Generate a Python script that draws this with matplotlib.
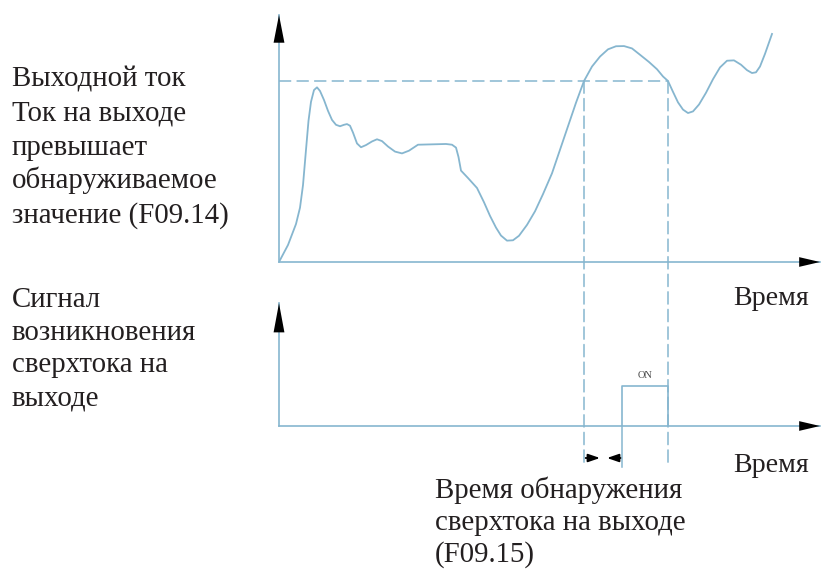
import matplotlib
matplotlib.use("Agg")
import matplotlib.pyplot as plt
from matplotlib.patches import ConnectionPatch

plt.rcParams["font.family"] = ["Liberation Serif", "DejaVu Serif"]

W, H = 821, 569
LINE = "#86b6cf"
INK = "#231f20"

# output current, threshold = 100 (F09.14); rows of ten to keep them aligned
time_pts = [0, 1.8, 3.4, 4.2, 4.8, 5.4, 5.9, 6.4, 7.0, 7.6,
            8.2, 9.0, 9.8, 10.6, 11.4, 12.2, 13.0, 13.6, 14.2, 14.8,
            15.6, 16.4, 17.4, 18.6, 19.6, 20.6, 21.8, 23.2, 24.6, 26.0,
            27.8, 33.4, 34.6, 35.4, 35.9, 36.4, 37.8, 39.6, 41.0, 42.2,
            43.4, 44.4, 45.6, 46.8, 48.0, 49.6, 51.2, 52.8, 54.6, 56.2,
            57.8, 59.4, 61.0, 62.6, 64.2, 65.8, 67.4, 69.0, 70.6, 72.2,
            74.0, 75.6, 76.8, 77.8, 78.8, 79.8, 80.8, 81.8, 82.8, 84.0,
            85.4, 86.8, 88.2, 89.6, 91.0, 92.4, 93.6, 94.6, 95.4, 96.2,
            97.2, 98.6]
current_pts = [0, 9.4, 21.0, 30.0, 42.5, 62.0, 78.0, 88.5, 95.0, 96.5,
               94.5, 89.5, 83.5, 78.5, 75.8, 75.0, 75.8, 76.2, 75.3, 71.5,
               65.5, 63.4, 64.6, 66.6, 67.8, 66.8, 63.8, 61.0, 60.0, 61.5,
               64.8, 65.2, 64.8, 63.2, 58.0, 50.5, 46.4, 40.9, 33.0, 25.5,
               19.0, 14.6, 11.8, 12.0, 14.5, 20.5, 28.0, 37.5, 49.0, 62.0,
               75.0, 88.0, 100, 108.0, 113.5, 117.5, 119.2, 119.3, 118.0, 114.5,
               110.5, 106.5, 102.5, 100, 94.0, 88.2, 84.2, 82.3, 83.2, 87.0,
               93.5, 101.0, 107.5, 111.2, 111.4, 109.0, 106.0, 104.4, 104.8, 108.0,
               115.0, 126.0]
threshold = 100
cross_times = [61.0, 77.8]
detect_delay = 7.6  # F09.15

# overcurrent signal
t_on = cross_times[0] + detect_delay
t_off = cross_times[1]
signal_t = [t_on, t_on, t_off, t_off]
signal_v = [0, 1, 1, 0]

fig = plt.figure(figsize=(W / 100, H / 100), dpi=100)


def box(left, top, right, bottom):
    return [left / W, 1 - bottom / H, (right - left) / W, (bottom - top) / H]


ax1 = fig.add_axes(box(279, 0, 821, 262))
ax2 = fig.add_axes(box(279, 290, 821, 426))
ax1.set_xlim(0, 108.4)
ax1.set_ylim(0, 144.75)
ax2.set_xlim(0, 108.4)
ax2.set_ylim(0, 3.4)
for ax in (ax1, ax2):
    ax.axis("off")


def axis_arrows(ax, x_tip, y_tip, x_head, y_head):
    ax.plot([0, x_tip], [0, 0], color=LINE, lw=1.2, clip_on=False)
    ax.plot([0, 0], [0, y_tip], color=LINE, lw=1.2, clip_on=False)
    ax.annotate("", xy=(0, y_tip), xytext=(0, 0),
                arrowprops=dict(arrowstyle=f"-|>,head_length={y_head},head_width=3.9",
                                mutation_scale=1, color="black", lw=0,
                                shrinkA=0, shrinkB=0))
    ax.annotate("", xy=(x_tip, 0), xytext=(0, 0),
                arrowprops=dict(arrowstyle=f"-|>,head_length={x_head},head_width=3.5",
                                mutation_scale=1, color="black", lw=0,
                                shrinkA=0, shrinkB=0))


axis_arrows(ax1, 108.2, 136.5, 15, 20)
axis_arrows(ax2, 108.2, 3.07, 15, 21)

# current curve and threshold
ax1.plot(time_pts, current_pts, color=LINE, lw=1.3, solid_joinstyle="round")
ax1.plot([0, cross_times[1]], [threshold, threshold], color=LINE, lw=1.1,
         ls=(0, (8, 3.5)))

# dashed drops from threshold crossings down past the signal axis
for t in cross_times:
    con = ConnectionPatch(xyA=(t, threshold), coordsA=ax1.transData,
                          xyB=(t, -1.02), coordsB=ax2.transData,
                          color=LINE, lw=1.1, ls=(0, (8, 3.5)))
    fig.add_artist(con)

# signal pulse
ax2.plot(signal_t, signal_v, color=LINE, lw=1.2)
ax2.plot([t_on, t_on], [0, -1.02], color=LINE, lw=1.1, clip_on=False)
ax2.text((t_on + t_off) / 2, 1.25, "ON", fontsize=7.5, color="#444444",
         ha="center", va="center")

# delay arrows
ax2.annotate("", xy=(cross_times[0] + 3.2, -0.8), xytext=(cross_times[0] + 0.3, -0.8),
             arrowprops=dict(arrowstyle="-|>,head_length=7,head_width=2.4",
                             mutation_scale=1, color="black", lw=1.3,
                             shrinkA=0, shrinkB=0), annotation_clip=False)
ax2.annotate("", xy=(t_on - 3.0, -0.8), xytext=(t_on - 0.3, -0.8),
             arrowprops=dict(arrowstyle="-|>,head_length=7,head_width=2.4",
                             mutation_scale=1, color="black", lw=1.3,
                             shrinkA=0, shrinkB=0), annotation_clip=False)


def label(x, y, lines, step, size=20.8):
    for i, s in enumerate(lines):
        fig.text(x / W, 1 - (y + i * step) / H, s, fontsize=size, color=INK,
                 ha="left", va="baseline")


label(12, 87, ["Выходной ток", "Ток на выходе", "превышает",
               "обнаруживаемое", "значение (F09.14)"], 33.8)
label(12, 307, ["Сигнал", "возникновения", "сверхтока на", "выходе"], 32.7)
label(733, 305, ["Время"], 0, 20.2)
label(733, 472, ["Время"], 0, 20.2)
label(435, 498, ["Время обнаружения", "сверхтока на выходе", "(F09.15)"], 32)

fig.savefig("out.png", dpi=100)
